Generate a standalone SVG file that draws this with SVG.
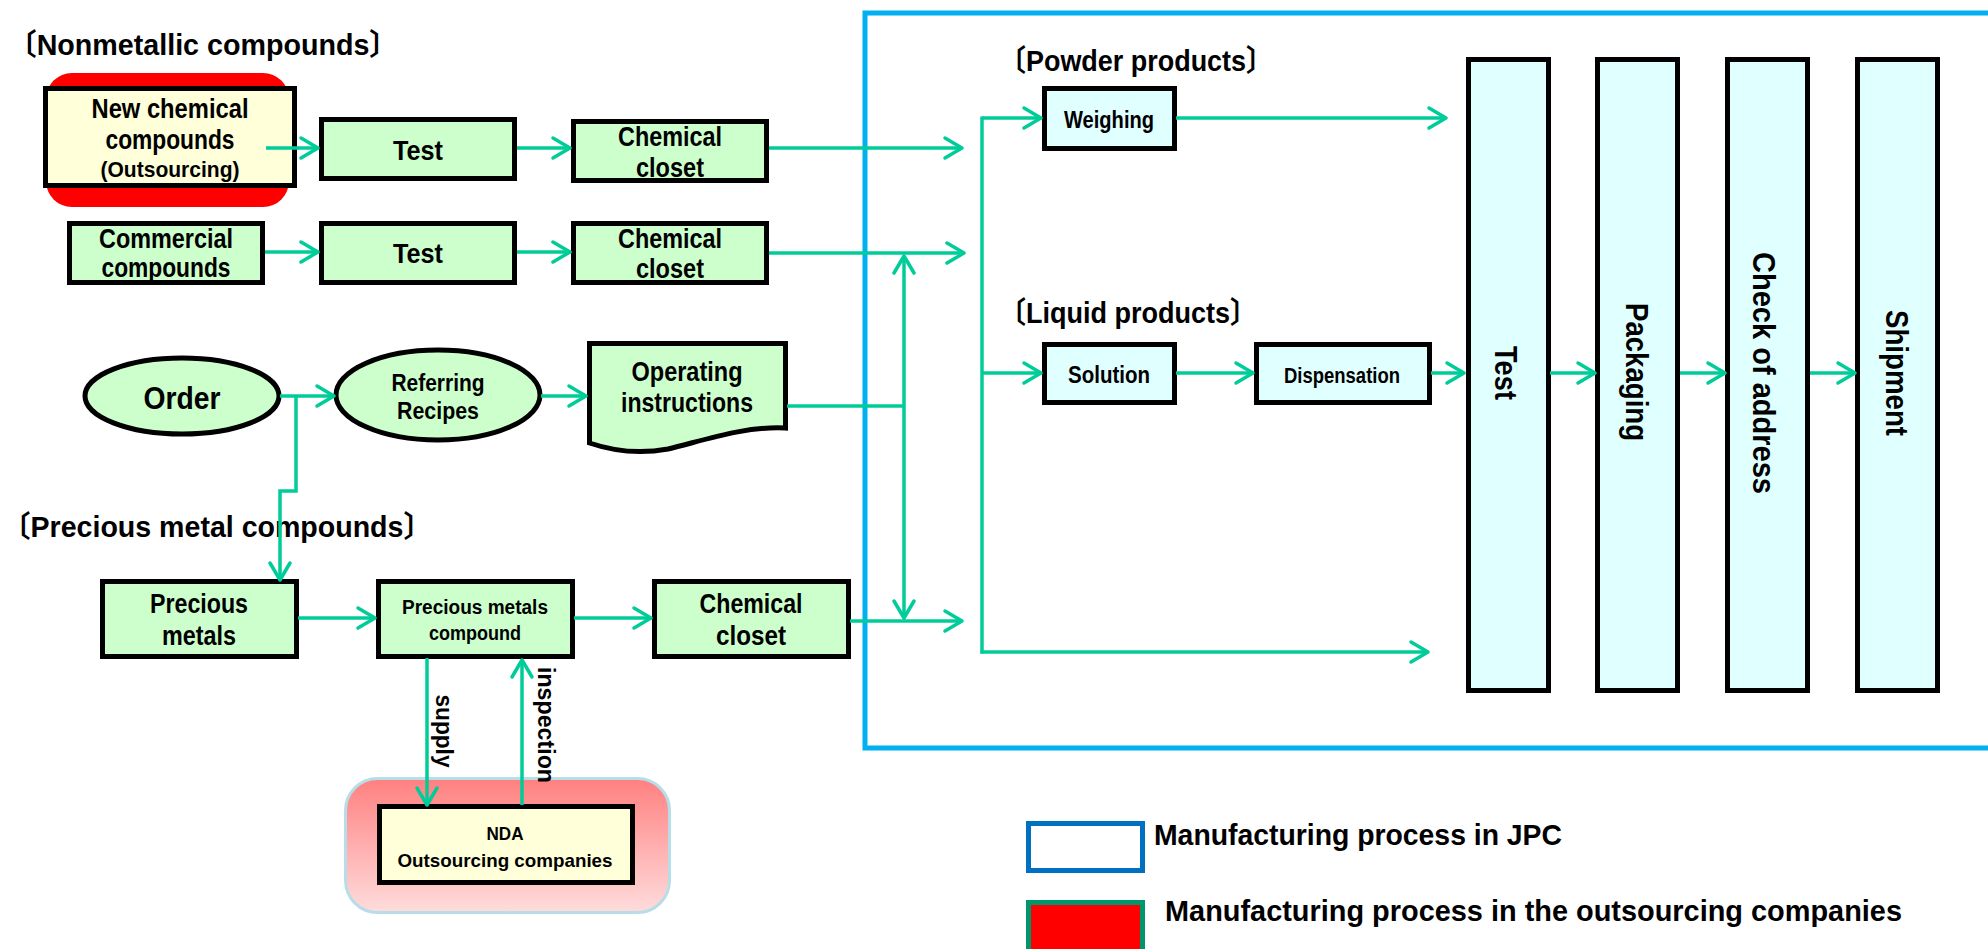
<svg xmlns="http://www.w3.org/2000/svg" width="1988" height="949" viewBox="0 0 1988 949">
<defs>
<marker id="ah" markerUnits="userSpaceOnUse" markerWidth="26" markerHeight="26" viewBox="0 0 26 26" refX="21" refY="13" orient="auto">
<path d="M4,3 L21,13 L4,23" fill="none" stroke="#00CC99" stroke-width="3.5" stroke-linecap="round" stroke-linejoin="round"/>
</marker>
<linearGradient id="pink" x1="0" y1="0" x2="0" y2="1">
<stop offset="0" stop-color="#FF8080"/>
<stop offset="1" stop-color="#FFDCDC"/>
</linearGradient>
<style>
text{font-family:'Liberation Sans','Noto Sans CJK JP',sans-serif;font-weight:bold;fill:#000;}
.c{text-anchor:middle;}
.g{fill:#CCFFCC;stroke:#000;stroke-width:5;}
.y{fill:#FFFFD9;stroke:#000;stroke-width:5;}
.b{fill:#E0FFFF;stroke:#000;stroke-width:5;}
.l{fill:none;stroke:#00CC99;stroke-width:3.5;}
.a{fill:none;stroke:#00CC99;stroke-width:3.5;marker-end:url(#ah);}
</style>
</defs>
<rect width="1988" height="949" fill="#fff"/>

<g id="jpc-frame">
<path d="M1992,13 H865 V748 H1992" fill="none" stroke="#00B0F0" stroke-width="5"/>
</g>

<g id="titles">
<text x="8" y="55" font-size="30" textLength="390" lengthAdjust="spacingAndGlyphs">〔Nonmetallic compounds〕</text>
<text x="999" y="71" font-size="30" textLength="274" lengthAdjust="spacingAndGlyphs">〔Powder products〕</text>
<text x="999" y="323" font-size="30" textLength="258" lengthAdjust="spacingAndGlyphs">〔Liquid products〕</text>
<text x="2" y="537" font-size="30" textLength="430" lengthAdjust="spacingAndGlyphs">〔Precious metal compounds〕</text>
</g>

<g id="new-chemical">
<rect x="46" y="73" width="243" height="134" rx="26" fill="#FF0000"/>
<rect class="y" x="45.5" y="88.5" width="249" height="97"/>
<text class="c" x="170" y="118" font-size="28" textLength="157" lengthAdjust="spacingAndGlyphs">New chemical</text>
<text class="c" x="170" y="149" font-size="28" textLength="129" lengthAdjust="spacingAndGlyphs">compounds</text>
<text class="c" x="170" y="177" font-size="22" textLength="139" lengthAdjust="spacingAndGlyphs">(Outsourcing)</text>
</g>
<g id="test1">
<rect class="g" x="321.5" y="119.5" width="193" height="59"/>
<text class="c" x="418" y="160" font-size="27" textLength="50" lengthAdjust="spacingAndGlyphs">Test</text>
</g>
<g id="closet1">
<rect class="g" x="573.5" y="121.5" width="193" height="59"/>
<text class="c" x="670" y="146" font-size="27" textLength="104" lengthAdjust="spacingAndGlyphs">Chemical</text>
<text class="c" x="670" y="177" font-size="27" textLength="68" lengthAdjust="spacingAndGlyphs">closet</text>
</g>
<g id="commercial">
<rect class="g" x="69.5" y="223.5" width="193" height="59"/>
<text class="c" x="166" y="248" font-size="27" textLength="134" lengthAdjust="spacingAndGlyphs">Commercial</text>
<text class="c" x="166" y="277" font-size="27" textLength="129" lengthAdjust="spacingAndGlyphs">compounds</text>
</g>
<g id="test2">
<rect class="g" x="321.5" y="223.5" width="193" height="59"/>
<text class="c" x="418" y="263" font-size="27" textLength="50" lengthAdjust="spacingAndGlyphs">Test</text>
</g>
<g id="closet2">
<rect class="g" x="573.5" y="223.5" width="193" height="59"/>
<text class="c" x="670" y="248" font-size="27" textLength="104" lengthAdjust="spacingAndGlyphs">Chemical</text>
<text class="c" x="670" y="278" font-size="27" textLength="68" lengthAdjust="spacingAndGlyphs">closet</text>
</g>

<g id="order">
<ellipse class="g" cx="182" cy="396" rx="97" ry="38"/>
<text class="c" x="182" y="409" font-size="31" textLength="77" lengthAdjust="spacingAndGlyphs">Order</text>
</g>
<g id="referring">
<ellipse class="g" cx="438" cy="395" rx="102" ry="45"/>
<text class="c" x="438" y="391" font-size="24" textLength="93" lengthAdjust="spacingAndGlyphs">Referring</text>
<text class="c" x="438" y="419" font-size="24" textLength="82" lengthAdjust="spacingAndGlyphs">Recipes</text>
</g>
<g id="operating">
<path class="g" d="M589.5,343.5 H785.5 V428 C745,426 705,440 668,449 C635,455 610,450 589.5,443 Z"/>
<text class="c" x="687" y="381" font-size="27" textLength="111" lengthAdjust="spacingAndGlyphs">Operating</text>
<text class="c" x="687" y="412" font-size="27" textLength="132" lengthAdjust="spacingAndGlyphs">instructions</text>
</g>

<g id="precious-metals">
<rect class="g" x="102.5" y="581.5" width="194" height="75"/>
<text class="c" x="199" y="613" font-size="27" textLength="98" lengthAdjust="spacingAndGlyphs">Precious</text>
<text class="c" x="199" y="645" font-size="27" textLength="74" lengthAdjust="spacingAndGlyphs">metals</text>
</g>
<g id="pm-compound">
<rect class="g" x="378.5" y="581.5" width="194" height="75"/>
<text class="c" x="475" y="614" font-size="20" textLength="146" lengthAdjust="spacingAndGlyphs">Precious metals</text>
<text class="c" x="475" y="640" font-size="20" textLength="92" lengthAdjust="spacingAndGlyphs">compound</text>
</g>
<g id="closet3">
<rect class="g" x="654.5" y="581.5" width="194" height="75"/>
<text class="c" x="751" y="613" font-size="27" textLength="103" lengthAdjust="spacingAndGlyphs">Chemical</text>
<text class="c" x="751" y="645" font-size="27" textLength="70" lengthAdjust="spacingAndGlyphs">closet</text>
</g>

<g id="nda">
<rect x="345.5" y="778.5" width="324" height="134" rx="32" fill="url(#pink)" stroke="#B7DDE8" stroke-width="3"/>
<rect class="y" x="379.5" y="806.5" width="253" height="76"/>
<text class="c" x="505" y="840" font-size="19" textLength="37" lengthAdjust="spacingAndGlyphs">NDA</text>
<text class="c" x="505" y="867" font-size="19" textLength="215" lengthAdjust="spacingAndGlyphs">Outsourcing companies</text>
</g>

<g id="weighing">
<rect class="b" x="1044.5" y="88.5" width="130" height="60"/>
<text class="c" x="1109" y="128" font-size="23" textLength="90" lengthAdjust="spacingAndGlyphs">Weighing</text>
</g>
<g id="solution">
<rect class="b" x="1044.5" y="344.5" width="130" height="58"/>
<text class="c" x="1109" y="383" font-size="24" textLength="82" lengthAdjust="spacingAndGlyphs">Solution</text>
</g>
<g id="dispensation">
<rect class="b" x="1256.5" y="344.5" width="173" height="58"/>
<text class="c" x="1342" y="383" font-size="22" textLength="116" lengthAdjust="spacingAndGlyphs">Dispensation</text>
</g>

<g id="test-final">
<rect class="b" x="1468.5" y="59.5" width="80" height="631"/>
<text class="c" transform="translate(1495,373) rotate(90)" font-size="32" textLength="54" lengthAdjust="spacingAndGlyphs">Test</text>
</g>
<g id="packaging">
<rect class="b" x="1597.5" y="59.5" width="80" height="631"/>
<text class="c" transform="translate(1626,372) rotate(90)" font-size="32" textLength="138" lengthAdjust="spacingAndGlyphs">Packaging</text>
</g>
<g id="check-address">
<rect class="b" x="1727.5" y="59.5" width="80" height="631"/>
<text class="c" transform="translate(1753,373) rotate(90)" font-size="32" textLength="242" lengthAdjust="spacingAndGlyphs">Check of address</text>
</g>
<g id="shipment">
<rect class="b" x="1857.5" y="59.5" width="80" height="631"/>
<text class="c" transform="translate(1886,373) rotate(90)" font-size="32" textLength="126" lengthAdjust="spacingAndGlyphs">Shipment</text>
</g>

<g id="connectors">
<path class="a" d="M266,148 H318"/>
<path class="a" d="M517,148 H570"/>
<path class="a" d="M769,148 H962"/>
<path class="a" d="M265,252 H318"/>
<path class="a" d="M517,252 H570"/>
<path class="a" d="M769,253 H964"/>
<path class="a" d="M280,396 H334"/>
<path class="a" d="M541,396 H586"/>
<path class="a" d="M296,396 V491 H280 V580"/>
<path class="l" d="M787,406 H904"/>
<path class="a" d="M904,406 V256"/>
<path class="a" d="M904,406 V618"/>
<path class="a" d="M298,618 H375"/>
<path class="a" d="M574,618 H651"/>
<path class="a" d="M850,621 H962"/>
<path class="a" d="M427,658 V805"/>
<path class="a" d="M522,805 V660"/>
<path class="l" d="M982,116.5 V653.5"/>
<path class="a" d="M982,118 H1041"/>
<path class="a" d="M982,373 H1041"/>
<path class="a" d="M980.5,652 H1428"/>
<path class="a" d="M1176,118 H1446"/>
<path class="a" d="M1176,373 H1253"/>
<path class="a" d="M1431,373 H1464"/>
<path class="a" d="M1550,373 H1595"/>
<path class="a" d="M1680,373 H1725"/>
<path class="a" d="M1810,373 H1855"/>
</g>
<g id="edge-labels">
<text class="c" transform="translate(436,731) rotate(90)" font-size="24" textLength="73" lengthAdjust="spacingAndGlyphs">supply</text>
<text class="c" transform="translate(538,725) rotate(90)" font-size="24" textLength="116" lengthAdjust="spacingAndGlyphs">inspection</text>
</g>

<g id="legend">
<rect x="1028.5" y="823.5" width="114" height="47" fill="#fff" stroke="#0070C0" stroke-width="5"/>
<text x="1154" y="845" font-size="30" textLength="408" lengthAdjust="spacingAndGlyphs">Manufacturing process in JPC</text>
<rect x="1028.5" y="902.5" width="114" height="52" fill="#FF0000" stroke="#00956A" stroke-width="5"/>
<text x="1165" y="921" font-size="30" textLength="737" lengthAdjust="spacingAndGlyphs">Manufacturing process in the outsourcing companies</text>
</g>
</svg>
